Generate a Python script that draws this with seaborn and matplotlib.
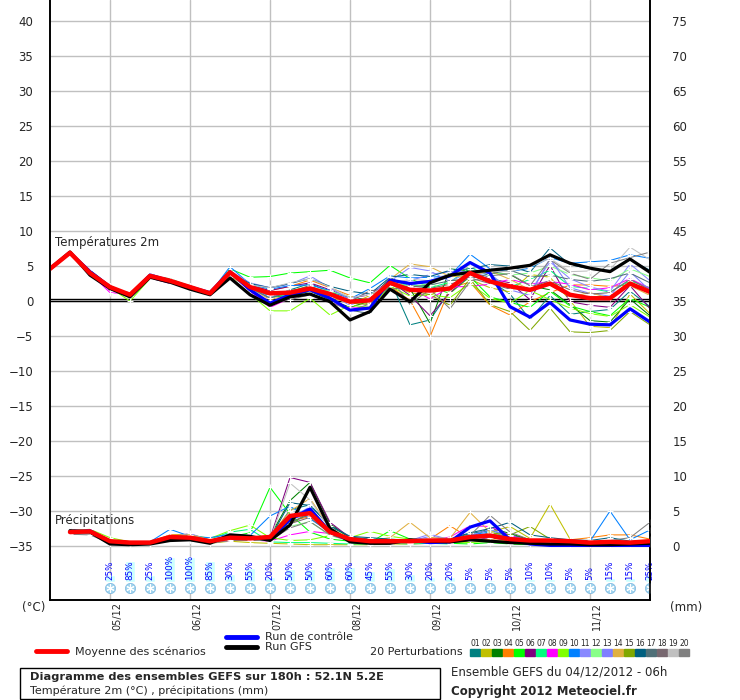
import matplotlib
matplotlib.use('Agg')
import numpy as np
import pandas as pd
import matplotlib.pyplot as plt
from matplotlib.lines import Line2D
from matplotlib.patches import Rectangle
import seaborn as sns

# ---------------- data ----------------
hours = list(range(0, 181, 6))          # 04/12 06h -> +180h
precip_hours = list(range(6, 181, 6))
date_labels = ['05/12', '06/12', '07/12', '08/12', '09/12', '10/12', '11/12']
date_hours = [18, 42, 66, 90, 114, 138, 162]

snow_hours = list(range(18, 181, 6))
snow_pct = [25, 85, 25, 100, 100, 85, 30, 55, 20, 50, 50, 60, 60, 45,
            55, 30, 20, 20, 5, 5, 5, 10, 10, 5, 5, 15, 15, 25]

temp_mean = [4.6, 6.9, 4.0, 2.0, 0.9, 3.6, 2.9, 2.0, 1.1, 4.1, 2.0, 1.1, 1.2, 1.8, 1.0, -0.1,
             0.1, 2.6, 1.6, 1.5, 1.8, 4.0, 2.8, 2.1, 1.6, 2.5, 0.9, 0.4, 0.4, 2.5, 1.3]
temp_gfs = [4.6, 7.0, 3.7, 1.8, 0.6, 3.4, 2.7, 1.7, 0.9, 3.3, 0.9, -0.6, 0.6, 1.0, -0.1, -2.7,
            -1.5, 1.7, -0.1, 2.6, 3.7, 4.1, 4.4, 4.7, 5.1, 6.6, 5.4, 4.7, 4.2, 6.0, 4.1]
temp_ctrl = [4.6, 6.9, 4.2, 2.0, 0.8, 3.7, 2.9, 2.0, 1.2, 4.2, 1.6, -0.3, 0.9, 1.6, 0.4, -1.3,
             -1.0, 3.0, 2.5, 2.8, 3.6, 5.5, 4.0, -0.8, -2.3, -0.2, -2.7, -3.3, -3.4, -1.1, -3.0]

temp_p01 = [4.7, 6.8, 4.2, 2.1, 0.9, 3.8, 2.8, 1.9, 0.8, 4.0, 2.2, 0.4, 1.6, 2.5, 1.3, 0.5, 0.2, 3.0, -3.4, -2.7, 1.5, 4.5, 2.9, 1.0, -2.6, 0.8, -1.9, -1.5, -1.2, 1.4, -0.8]
temp_p02 = [4.6, 6.9, 4.1, 2.0, 1.0, 3.5, 3.0, 2.1, 1.2, 3.9, 1.7, 0.8, 1.4, 2.2, 0.9, -0.5, 0.8, 2.3, 1.2, 0.7, 2.9, 3.1, 1.9, 1.3, 3.8, 3.4, 0.1, -3.6, -3.8, 1.0, -1.8]
temp_p03 = [4.6, 7.0, 4.0, 2.2, 0.8, 3.7, 3.1, 2.0, 1.0, 4.3, 1.9, 0.6, 0.7, 1.4, 0.2, -0.9, 0.0, 3.4, 1.8, -3.2, 4.6, 4.3, 4.0, 3.8, 2.2, 1.6, -0.5, -2.8, -3.0, 0.3, -2.1]
temp_p04 = [4.5, 6.8, 4.1, 2.0, 0.9, 3.6, 2.8, 1.9, 1.1, 4.1, 2.3, 1.5, 2.1, 3.0, 1.9, 0.8, -0.6, 2.1, 0.1, -5.1, 1.9, 2.7, -0.6, -2.0, -0.1, 1.2, 2.3, 2.3, 2.1, 2.3, 1.9]
temp_p05 = [4.6, 6.9, 3.9, 1.9, 0.8, 3.4, 2.9, 2.0, 1.1, 4.6, 3.4, 3.5, 4.0, 4.2, 4.4, 3.3, 2.6, 5.1, 3.2, 2.0, 1.1, 3.5, 0.6, -0.2, -0.9, 1.4, -0.7, -1.5, -2.1, 0.4, -0.9]
temp_p06 = [4.6, 6.9, 4.1, 1.5, 1.2, 3.3, 2.5, 2.0, 1.3, 3.8, 2.2, 1.5, 2.1, 2.6, 1.6, 0.4, 0.9, 2.9, 0.8, -2.1, 1.2, 3.6, 3.2, 2.6, 0.2, 5.1, -0.1, -0.6, -0.9, 2.2, -1.1]
temp_p07 = [4.6, 6.9, 4.0, 2.0, 0.9, 3.5, 3.2, 2.1, 1.0, 3.7, 1.9, 0.5, 1.0, 1.5, 0.7, 0.0, -0.3, 2.0, 2.4, 1.9, 2.7, 4.8, 3.6, 2.0, 3.1, 4.4, 2.1, 1.8, 1.3, 2.9, 1.9]
temp_p08 = [4.6, 6.9, 4.0, 1.2, 1.0, 3.5, 2.8, 1.8, 1.0, 4.0, 1.4, -0.9, 0.4, 1.1, -0.2, -1.0, -0.9, 2.5, 1.9, 0.3, 2.0, 2.1, 2.4, 3.1, 2.4, 2.8, 2.4, 1.6, 1.9, 3.2, 1.8]
temp_p09 = [4.6, 6.8, 4.0, 1.9, 0.0, 3.2, 3.0, 2.0, 1.0, 3.4, 1.0, -1.4, -1.4, 0.4, -2.0, -0.6, -0.9, 2.1, 0.7, 0.9, 0.5, 2.5, 0.4, -0.3, 1.5, 0.2, -1.0, -1.8, -2.2, -0.5, -2.3]
temp_p10 = [4.6, 7.0, 4.1, 2.1, 0.9, 3.9, 2.9, 2.0, 1.1, 4.9, 2.4, 1.7, 2.2, 2.3, 1.5, 0.3, 1.8, 3.6, 3.3, 3.4, 3.6, 6.7, 4.6, 4.2, 4.7, 6.2, 5.4, 5.6, 5.8, 6.6, 6.1]
temp_p11 = [4.6, 6.8, 3.9, 2.0, 1.1, 3.8, 3.0, 2.1, 1.0, 3.9, 1.8, 0.6, 1.3, 1.9, 0.9, -0.6, 0.5, 2.8, 4.8, 4.3, 2.8, 4.2, 3.4, 2.0, 1.3, 5.6, 3.2, 2.0, 1.4, 5.3, 2.9]
temp_p12 = [4.6, 6.9, 4.1, 2.0, 0.7, 3.4, 3.1, 2.0, 1.2, 3.6, 1.8, 0.9, 1.0, 2.0, 1.4, 0.6, -0.2, 3.2, 1.9, 2.6, 1.3, 5.3, 4.1, 3.7, 4.0, 5.0, 3.8, 3.3, 2.9, 4.6, 3.5]
temp_p13 = [4.6, 6.9, 3.9, 2.0, 1.1, 3.6, 2.9, 1.9, 1.2, 4.3, 2.6, 1.9, 2.4, 3.6, 1.9, 0.2, 1.3, 2.4, 2.9, 3.8, 4.2, 4.2, 3.9, 1.6, 0.8, 6.1, 1.9, 1.1, 0.7, 4.2, 1.5]
temp_p14 = [4.6, 6.8, 4.0, 2.0, 0.8, 3.4, 3.0, 2.2, 1.0, 3.5, 1.9, 0.2, 0.9, 1.7, 0.5, -0.3, 0.3, 3.1, 5.3, 4.9, 3.5, 3.6, 4.3, 3.1, 1.6, 2.3, 0.6, 1.2, 0.4, 2.2, 0.8]
temp_p15 = [4.6, 6.9, 4.0, 2.1, 0.9, 3.6, 2.8, 1.9, 1.1, 4.1, 2.1, 0.9, 1.2, 1.8, 1.0, -0.3, -0.5, 2.8, 1.6, 0.9, -0.6, 3.2, -0.5, -1.5, -4.2, -1.0, -4.4, -4.5, -4.2, -1.5, -3.4]
temp_p16 = [4.6, 7.0, 4.4, 2.2, 0.9, 3.7, 2.9, 2.0, 1.1, 4.0, 2.5, 1.9, 2.5, 3.2, 2.1, 1.4, 1.0, 3.4, 3.8, 3.5, 4.4, 4.6, 5.2, 5.0, 4.1, 7.6, 5.2, 4.6, 4.4, 5.9, 4.4]
temp_p17 = [4.6, 6.9, 4.0, 2.0, 0.9, 3.6, 2.9, 2.0, 1.0, 4.2, 1.9, 0.4, 1.3, 2.2, 0.6, -1.3, -1.8, 2.2, 2.0, 2.3, 2.9, 3.2, 3.9, 4.4, 3.4, 3.7, 3.1, 2.8, 3.2, 4.0, 2.6]
temp_p18 = [4.6, 6.9, 4.0, 2.0, 1.0, 3.7, 2.8, 2.0, 1.1, 3.9, 2.0, 0.8, 1.5, 1.9, 1.2, -0.1, 1.5, 1.6, 2.2, 1.8, 2.4, 3.3, 2.5, 1.7, 2.0, 2.9, 1.6, 1.0, 1.2, 3.1, 1.6]
temp_p19 = [4.6, 6.9, 4.0, 2.0, 0.9, 3.5, 2.8, 2.0, 1.2, 4.1, 2.3, 1.9, 2.6, 3.2, 2.0, 0.5, 0.9, 2.5, 3.1, 2.9, 3.9, 5.0, 4.3, 4.2, 4.9, 6.1, 4.2, 4.3, 4.5, 7.7, 5.9]
temp_p20 = [4.6, 6.9, 4.0, 2.0, 0.9, 3.5, 2.9, 2.0, 1.1, 3.9, 1.6, -0.4, 0.2, 0.9, -0.1, -1.4, -0.4, 3.4, -0.5, 1.7, -1.1, 2.8, 3.6, 3.9, 2.2, 5.9, 4.0, 3.1, 5.4, 6.2, 7.0]

precip_mean = [2.0, 2.1, 0.7, 0.5, 0.5, 1.3, 1.2, 0.7, 1.2, 1.1, 1.3, 4.3, 4.7, 2.0, 1.0,
               0.7, 0.7, 0.7, 0.8, 0.8, 1.3, 1.5, 1.0, 0.8, 0.8, 0.7, 0.5, 0.6, 0.5, 0.7]
precip_gfs = [2.2, 2.0, 0.3, 0.2, 0.3, 0.8, 0.9, 0.4, 1.6, 1.4, 0.8, 3.0, 8.4, 2.5, 0.6,
              0.4, 0.4, 0.9, 0.7, 0.6, 0.9, 0.7, 0.5, 0.4, 0.3, 0.3, 0.2, 0.2, 0.3, 0.4]
precip_ctrl = [2.0, 2.2, 0.6, 0.4, 0.4, 1.1, 1.0, 0.6, 1.3, 1.2, 1.0, 3.8, 5.3, 2.0, 0.8,
               0.5, 0.6, 0.8, 0.5, 0.6, 2.7, 3.6, 0.9, 0.3, 0.1, 0.1, 0.1, 0.1, 0.1, 0.1]

precip_p01 = [2.3, 2.3, 0.5, 0.3, 0.4, 1.4, 1.3, 0.7, 1.5, 1.2, 1.0, 5.2, 5.9, 2.8, 1.3, 1.0, 0.8, 0.7, 0.6, 0.9, 1.8, 2.2, 1.6, 0.9, 0.7, 0.7, 0.6, 0.5, 0.4, 0.6]
precip_p02 = [1.9, 2.0, 0.4, 0.2, 0.3, 0.8, 0.9, 0.4, 0.7, 0.5, 0.4, 0.3, 0.2, 0.2, 0.2, 0.2, 0.3, 0.3, 0.4, 0.5, 0.7, 2.0, 2.8, 1.1, 6.0, 1.0, 0.4, 0.3, 0.3, 0.4]
precip_p03 = [2.2, 2.1, 0.5, 0.4, 0.5, 1.2, 1.1, 0.8, 1.1, 0.9, 1.4, 6.5, 9.1, 3.2, 1.1, 0.6, 0.7, 0.9, 1.0, 0.6, 1.2, 2.6, 1.8, 0.9, 0.6, 0.5, 0.7, 0.6, 0.4, 0.5]
precip_p04 = [2.0, 2.0, 0.7, 0.5, 0.6, 1.6, 1.7, 0.9, 1.0, 1.2, 0.8, 3.6, 4.2, 2.2, 0.9, 0.8, 1.0, 0.6, 1.0, 2.9, 1.1, 0.9, 0.8, 0.7, 0.6, 0.9, 1.2, 1.6, 1.6, 1.0]
precip_p05 = [1.8, 1.9, 0.6, 0.3, 0.4, 1.0, 1.2, 0.6, 1.3, 1.9, 8.4, 4.6, 2.0, 1.0, 0.7, 0.5, 2.2, 1.0, 0.6, 0.4, 0.3, 0.5, 0.3, 0.2, 0.3, 0.2, 0.2, 0.2, 0.3, 0.3]
precip_p06 = [2.1, 2.2, 0.6, 0.4, 0.5, 1.5, 1.2, 0.9, 1.6, 1.4, 1.1, 9.8, 9.1, 3.4, 1.2, 0.7, 0.6, 0.5, 0.7, 0.6, 0.9, 1.2, 0.8, 0.7, 0.7, 0.6, 0.5, 0.5, 0.6, 0.6]
precip_p07 = [2.0, 2.1, 0.8, 0.6, 0.6, 1.4, 1.5, 1.0, 2.0, 2.4, 0.6, 0.5, 0.5, 0.4, 0.3, 0.3, 0.4, 0.3, 0.4, 0.3, 1.0, 1.6, 1.4, 0.9, 0.8, 0.7, 0.6, 0.6, 0.5, 0.7]
precip_p08 = [1.7, 1.8, 0.4, 0.3, 0.4, 1.1, 1.0, 0.5, 0.8, 0.9, 0.7, 1.6, 2.1, 1.8, 1.0, 0.6, 0.5, 0.6, 0.8, 1.3, 2.9, 2.8, 1.5, 0.8, 0.6, 0.5, 0.5, 0.6, 0.7, 0.8]
precip_p09 = [2.2, 2.4, 1.2, 0.6, 0.6, 1.5, 1.6, 1.1, 2.2, 3.0, 1.2, 0.8, 0.9, 1.5, 1.2, 2.1, 1.4, 1.0, 0.8, 0.6, 0.5, 0.7, 0.6, 0.4, 0.4, 0.4, 0.3, 0.3, 0.4, 0.5]
precip_p10 = [2.1, 2.0, 0.6, 0.5, 0.6, 2.4, 1.4, 1.2, 1.7, 1.5, 4.3, 5.7, 3.9, 2.0, 0.7, 0.8, 0.7, 0.6, 0.5, 0.8, 1.6, 2.0, 1.2, 0.9, 0.7, 0.8, 0.7, 5.0, 0.9, 2.3]
precip_p11 = [2.0, 2.2, 0.7, 0.5, 0.5, 1.3, 1.8, 0.8, 1.4, 1.3, 1.0, 3.9, 4.4, 2.3, 0.9, 0.7, 0.9, 0.8, 1.7, 0.9, 1.4, 1.9, 1.0, 0.8, 0.7, 0.6, 0.6, 0.5, 0.6, 0.6]
precip_p12 = [1.9, 2.0, 0.5, 0.4, 0.5, 1.2, 1.1, 0.6, 1.0, 1.1, 0.9, 2.8, 3.5, 1.5, 0.8, 0.6, 0.5, 0.6, 0.6, 0.5, 1.1, 1.4, 1.0, 0.7, 0.6, 0.6, 0.5, 0.5, 0.5, 0.6]
precip_p13 = [2.4, 2.1, 0.6, 0.4, 0.5, 1.3, 1.2, 0.7, 1.2, 1.3, 1.2, 4.0, 5.6, 2.2, 1.0, 0.6, 0.6, 0.7, 1.4, 1.0, 1.5, 2.4, 1.3, 0.8, 0.7, 0.6, 0.6, 0.5, 0.5, 0.6]
precip_p14 = [2.0, 2.1, 0.7, 0.5, 0.6, 1.5, 1.6, 0.9, 1.3, 1.2, 1.5, 5.0, 6.8, 2.6, 1.1, 0.8, 1.2, 3.4, 1.2, 1.1, 4.8, 2.0, 1.0, 0.8, 0.7, 0.6, 0.6, 0.6, 0.5, 0.6]
precip_p15 = [2.1, 2.0, 0.5, 0.4, 0.4, 1.0, 1.1, 0.6, 1.1, 1.0, 0.9, 3.1, 4.9, 2.1, 0.9, 0.7, 0.6, 0.5, 0.6, 0.6, 1.0, 1.9, 1.6, 2.8, 1.0, 0.8, 0.7, 0.6, 0.6, 0.7]
precip_p16 = [2.2, 2.2, 0.6, 0.4, 0.5, 1.2, 1.2, 0.7, 1.3, 1.2, 1.1, 6.2, 5.8, 2.9, 1.4, 1.2, 1.0, 0.8, 0.9, 1.0, 1.9, 2.5, 3.4, 1.6, 1.2, 0.9, 0.8, 1.2, 0.7, 0.6]
precip_p17 = [2.1, 2.0, 0.5, 0.3, 0.4, 1.0, 1.1, 0.6, 1.0, 1.0, 1.0, 3.4, 4.5, 1.9, 0.8, 0.6, 0.6, 0.6, 0.7, 0.6, 1.2, 1.7, 1.2, 0.8, 0.6, 0.6, 0.5, 0.5, 0.5, 0.6]
precip_p18 = [2.0, 2.0, 0.5, 0.3, 0.4, 1.1, 1.0, 0.6, 1.0, 1.0, 0.8, 3.2, 4.1, 1.8, 0.8, 0.6, 0.5, 0.6, 0.6, 0.6, 1.0, 1.5, 1.1, 0.7, 0.6, 0.6, 0.5, 0.5, 0.5, 0.5]
precip_p19 = [1.8, 1.8, 0.4, 0.3, 0.3, 0.9, 0.8, 0.5, 0.8, 0.8, 0.9, 9.0, 6.6, 2.4, 0.9, 0.6, 0.5, 0.5, 0.5, 0.5, 0.8, 1.4, 0.9, 0.6, 0.5, 0.5, 0.4, 0.4, 0.4, 0.5]
precip_p20 = [1.7, 1.6, 0.4, 0.3, 0.3, 0.8, 0.8, 0.4, 0.8, 0.8, 0.8, 2.6, 3.5, 1.6, 0.7, 0.5, 0.5, 0.6, 0.9, 1.0, 1.5, 4.4, 2.0, 0.9, 0.7, 0.6, 0.6, 0.8, 1.2, 3.4]

member_names = ['%02d' % k for k in range(1, 21)]
member_colors = ['#008080', '#c0c000', '#008000', '#ff8000', '#00ff00', '#800080', '#00ff80',
                 '#ff00ff', '#80ff00', '#0080ff', '#8888ff', '#88ff88', '#7f7fff', '#e0b040',
                 '#80a800', '#006080', '#507078', '#786870', '#c0c0c0', '#808080']

temp_members = [temp_p01, temp_p02, temp_p03, temp_p04, temp_p05, temp_p06, temp_p07,
                temp_p08, temp_p09, temp_p10, temp_p11, temp_p12, temp_p13, temp_p14,
                temp_p15, temp_p16, temp_p17, temp_p18, temp_p19, temp_p20]
precip_members = [precip_p01, precip_p02, precip_p03, precip_p04, precip_p05, precip_p06,
                  precip_p07, precip_p08, precip_p09, precip_p10, precip_p11, precip_p12,
                  precip_p13, precip_p14, precip_p15, precip_p16, precip_p17, precip_p18,
                  precip_p19, precip_p20]

temp_df = pd.concat([pd.DataFrame({'h': hours, 'v': v, 'member': n})
                     for n, v in zip(member_names, temp_members)])
precip_df = pd.concat([pd.DataFrame({'h': precip_hours, 'v': v, 'member': n})
                       for n, v in zip(member_names, precip_members)])
palette = dict(zip(member_names, member_colors))

# ---------------- figure ----------------
sns.set_style('white')
plt.rcParams['font.family'] = ['DejaVu Sans']
fig = plt.figure(figsize=(7.4, 7.0), dpi=100)
ax = fig.add_axes([50 / 740, 100 / 700, 600 / 740, 600 / 700])
ax2 = ax.twinx()

ylo, yhi = -42.7, 43.0
ax.set_xlim(0, 180)
ax.set_ylim(ylo, yhi)
ax2.set_ylim(ylo + 35, yhi + 35)

grid_c = '#c0c0c0'
for yv in range(-35, 41, 5):
    ax.axhline(yv, color=grid_c, lw=1, zorder=0)
for xv in date_hours:
    ax.axvline(xv, color=grid_c, lw=1, zorder=0)
ax.axhline(0.3, color='black', lw=1, zorder=1)
ax.axhline(0.0, color='black', lw=1, zorder=1)

# temperature
sns.lineplot(data=temp_df, x='h', y='v', hue='member', palette=palette, ax=ax,
             lw=0.75, marker='+', markersize=4, markeredgewidth=0.8, legend=False,
             errorbar=None, zorder=2)
sns.lineplot(x=hours, y=temp_ctrl, ax=ax, color='#0000ff', lw=2.3, zorder=3)
sns.lineplot(x=hours, y=temp_gfs, ax=ax, color='black', lw=2.3, zorder=3)
sns.lineplot(x=hours, y=temp_mean, ax=ax, color='#ff0000', lw=3.2, zorder=4)

# precipitation on the mm axis
sns.lineplot(data=precip_df, x='h', y='v', hue='member', palette=palette, ax=ax2,
             lw=0.75, marker='+', markersize=4, markeredgewidth=0.8, legend=False,
             errorbar=None, zorder=2)
sns.lineplot(x=precip_hours, y=precip_ctrl, ax=ax2, color='#0000ff', lw=2.3, zorder=3)
sns.lineplot(x=precip_hours, y=precip_gfs, ax=ax2, color='black', lw=2.3, zorder=3)
sns.lineplot(x=precip_hours, y=precip_mean, ax=ax2, color='#ff0000', lw=3.2, zorder=4)

# snow probability
bar_bottom = -40.2
tops = [-40.04 + 0.0343 * p for p in snow_pct]
ax.bar(snow_hours, [t - bar_bottom for t in tops], bottom=bar_bottom, width=3,
       color='#ccffff', zorder=1)
ax.scatter(snow_hours, [-41.0] * len(snow_hours), s=55, color='#9fd3ee',
           edgecolor='#7fb8e0', lw=0.5, zorder=5)
ax.scatter(snow_hours, [-41.0] * len(snow_hours), s=28, marker=(6, 2, 0),
           color='white', lw=0.8, zorder=6)
for h, p in zip(snow_hours, snow_pct):
    ax.text(h, -39.9, '%d%%' % p, rotation=90, ha='center', va='bottom',
            fontsize=6.3, color='#0000ff', zorder=6)

ax.text(1.5, 8.3, 'Températures 2m', fontsize=8.5, va='center')
ax.text(1.5, -31.3, 'Précipitations', fontsize=8.5, va='center')

# axes styling
ax.set_xticks(date_hours)
ax.set_xticklabels([])
ax.tick_params(axis='x', length=0)
for h, lab in zip(date_hours, date_labels):
    ax.text(h + 0.6, -0.004, lab, rotation=90, ha='left', va='top', fontsize=7,
            transform=ax.get_xaxis_transform())
ax.set_yticks(range(-35, 41, 5))
ax2.set_yticks(range(0, 76, 5))
ax.tick_params(axis='y', length=0, pad=12, labelsize=8.5)
ax2.tick_params(axis='y', length=0, pad=16, labelsize=8.5)
ax.set_xlabel('')
ax.set_ylabel('')
ax2.set_ylabel('')
for a in (ax, ax2):
    a.spines['top'].set_visible(False)
    for s in ('left', 'right', 'bottom'):
        a.spines[s].set_color('black')
        a.spines[s].set_linewidth(1.2)
ax.set_facecolor('white')

# ---------------- bottom legend ----------------
def fy(y):
    return 1 - y / 700

def fx(x):
    return x / 740

fig.text(fx(22), fy(607), '(°C)', fontsize=8.5, va='center')
fig.text(fx(670), fy(607), '(mm)', fontsize=8.5, va='center')

fig.add_artist(Line2D([fx(36), fx(67)], [fy(651)] * 2, color='#ff0000', lw=3.5))
fig.text(fx(75), fy(652), 'Moyenne des scénarios', fontsize=8, va='center')
fig.add_artist(Line2D([fx(226), fx(257)], [fy(637)] * 2, color='#0000ff', lw=3.5))
fig.text(fx(265), fy(637), 'Run de contrôle', fontsize=8, va='center')
fig.add_artist(Line2D([fx(226), fx(257)], [fy(647)] * 2, color='black', lw=3.5))
fig.text(fx(265), fy(647), 'Run GFS', fontsize=8, va='center')
fig.text(fx(370), fy(652), '20 Perturbations', fontsize=8, va='center')
for k, (n, c) in enumerate(zip(member_names, member_colors)):
    x0 = 470 + 11 * k
    fig.add_artist(Rectangle((fx(x0), fy(656)), fx(10), 7 / 700, color=c,
                             transform=fig.transFigure))
    fig.text(fx(x0 + 5), fy(643), n, fontsize=5.5, ha='center', va='center')

fig.add_artist(Rectangle((fx(20), fy(699)), fx(420), 31 / 700, fill=False,
                         ec='black', lw=1, transform=fig.transFigure))
fig.text(fx(30), fy(677), 'Diagramme des ensembles GEFS sur 180h : 52.1N 5.2E',
         fontsize=8.2, fontweight='bold', va='center')
fig.text(fx(30), fy(691), 'Température 2m (°C) , précipitations (mm)',
         fontsize=8, va='center')
fig.text(fx(451), fy(672), 'Ensemble GEFS du 04/12/2012 - 06h', fontsize=8.5, va='center')
fig.text(fx(451), fy(692), 'Copyright 2012 Meteociel.fr', fontsize=8.5,
         fontweight='bold', va='center')

fig.savefig('out.png', dpi=100)
